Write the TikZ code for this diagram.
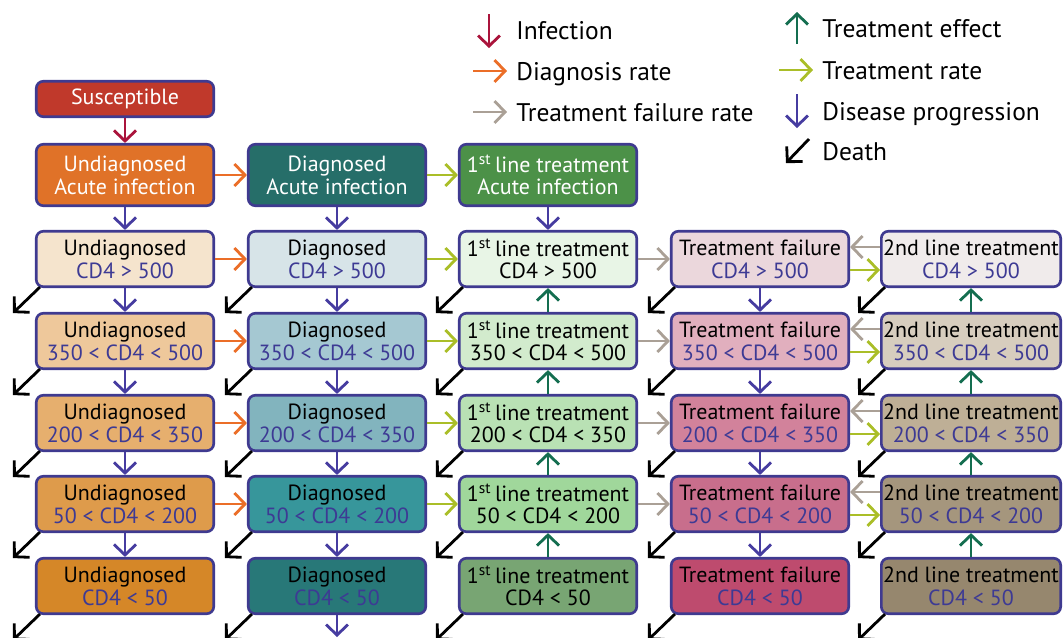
\documentclass[tikz,border=0pt]{standalone}
\usepackage{fontspec}
\setmainfont{PT Sans}
\usetikzlibrary{arrows.meta}
\definecolor{bord}{HTML}{3F3A90}
\definecolor{sub}{HTML}{3D3A94}
\definecolor{cinf}{HTML}{AA143C}
\definecolor{cdia}{HTML}{EB6E28}
\definecolor{cfail}{HTML}{AAA096}
\definecolor{ceff}{HTML}{146E50}
\definecolor{crate}{HTML}{AABE28}
\definecolor{cprog}{HTML}{463CA0}
\definecolor{fsus}{HTML}{C0392B}
\definecolor{fua}{HTML}{E07228}
\definecolor{fda}{HTML}{266E69}
\definecolor{ffa}{HTML}{4C9148}
\definecolor{fu1}{HTML}{F5E4CD}
\definecolor{fu2}{HTML}{EEC89B}
\definecolor{fu3}{HTML}{E6AF6E}
\definecolor{fu4}{HTML}{DE9B4B}
\definecolor{fu5}{HTML}{D58728}
\definecolor{fd1}{HTML}{D7E4E8}
\definecolor{fd2}{HTML}{A5C8D2}
\definecolor{fd3}{HTML}{82B4BE}
\definecolor{fd4}{HTML}{37969B}
\definecolor{fd5}{HTML}{287878}
\definecolor{ff1}{HTML}{E8F5E6}
\definecolor{ff2}{HTML}{D2EBCD}
\definecolor{ff3}{HTML}{B9E1B4}
\definecolor{ff4}{HTML}{A0D79B}
\definecolor{ff5}{HTML}{78A573}
\definecolor{ft1}{HTML}{EBD7DC}
\definecolor{ft2}{HTML}{E1AFBE}
\definecolor{ft3}{HTML}{D2829B}
\definecolor{ft4}{HTML}{C86E8C}
\definecolor{ft5}{HTML}{BE4B6E}
\definecolor{fs1}{HTML}{F0EBEB}
\definecolor{fs2}{HTML}{D7CDBE}
\definecolor{fs3}{HTML}{BEAF96}
\definecolor{fs4}{HTML}{A5967D}
\definecolor{fs5}{HTML}{96876E}
\newcommand{\sub}[1]{\textcolor{sub}{#1}}
\newcommand{\fst}{1\textsuperscript{st}\,line treatment}
\begin{document}
\begin{tikzpicture}[x=0.02cm,y=-0.02cm,
  box/.style={draw=bord, line width=1.5pt, rounded corners=4pt,
    minimum width=3.55cm, minimum height=1.11cm, align=center, inner sep=1pt,
    font=\fontsize{12.5}{13}\selectfont},
  acute/.style={box, minimum height=1.23cm, text=white},
  arr/.style={line width=1.6pt, -{Straight Barb[length=6pt,width=12.5pt,line width=1.6pt]}},
  death/.style={arr, black},
  leg/.style={anchor=base west, inner sep=0pt, font=\fontsize{14.5}{15}\selectfont}]
\useasboundingbox (0,0) rectangle (1063,637);
% legend
\coordinate (l1a) at (489,14); \coordinate (l1b) at (489,48);
\coordinate (l2a) at (473,71); \coordinate (l2b) at (507,71);
\coordinate (l3a) at (473,112); \coordinate (l3b) at (507,112);
\coordinate (l4a) at (797,44); \coordinate (l4b) at (797,12);
\coordinate (l5a) at (779,70); \coordinate (l5b) at (813,70);
\coordinate (l6a) at (797,94); \coordinate (l6b) at (797,128);
\coordinate (l7a) at (809,139); \coordinate (l7b) at (786,163);
\draw[arr,cinf] (l1a) -- (l1b);
\draw[arr,cdia] (l2a) -- (l2b);
\draw[arr,cfail] (l3a) -- (l3b);
\draw[arr,ceff] (l4a) -- (l4b);
\draw[arr,crate] (l5a) -- (l5b);
\draw[arr,cprog] (l6a) -- (l6b);
\draw[death] (l7a) -- (l7b);
\node[leg] (t1) at (516,39) {Infection};
\node[leg] (t2) at (516,80) {Diagnosis rate};
\node[leg] (t3) at (516,121) {Treatment failure rate};
\node[leg] (t4) at (822,37) {Treatment effect};
\node[leg] (t5) at (822,79) {Treatment rate};
\node[leg] (t6) at (822,120) {Disease progression};
\node[leg] (t7) at (822,160) {Death};
% boxes
\node[box, fill=fsus, text=white, minimum height=0.71cm] (sus) at (125,99) {Susceptible};
\node[acute, fill=fua] (u0) at (125,175) {Undiagnosed\\Acute infection};
\node[acute, fill=fda] (d0) at (337,175) {Diagnosed\\Acute infection};
\node[acute, fill=ffa] (f0) at (548,175) {\fst\\Acute infection};
\node[box, fill=fu1] (u1) at (125,259) {Undiagnosed\\\sub{CD4 > 500}};
\node[box, fill=fu2] (u2) at (125,341) {Undiagnosed\\\sub{350 < CD4 < 500}};
\node[box, fill=fu3] (u3) at (125,423) {Undiagnosed\\\sub{200 < CD4 < 350}};
\node[box, fill=fu4] (u4) at (125,504) {Undiagnosed\\\sub{50 < CD4 < 200}};
\node[box, fill=fu5] (u5) at (125,586) {Undiagnosed\\\sub{CD4 < 50}};
\node[box, fill=fd1] (d1) at (337,259) {Diagnosed\\\sub{CD4 > 500}};
\node[box, fill=fd2] (d2) at (337,341) {Diagnosed\\\sub{350 < CD4 < 500}};
\node[box, fill=fd3] (d3) at (337,423) {Diagnosed\\\sub{200 < CD4 < 350}};
\node[box, fill=fd4] (d4) at (337,504) {Diagnosed\\\sub{50 < CD4 < 200}};
\node[box, fill=fd5] (d5) at (337,586) {Diagnosed\\\sub{CD4 < 50}};
\node[box, fill=ff1] (f1) at (548,259) {\fst\\CD4 > 500};
\node[box, fill=ff2] (f2) at (548,341) {\fst\\350 < CD4 < 500};
\node[box, fill=ff3] (f3) at (548,423) {\fst\\200 < CD4 < 350};
\node[box, fill=ff4] (f4) at (548,504) {\fst\\50 < CD4 < 200};
\node[box, fill=ff5] (f5) at (548,586) {\fst\\CD4 < 50};
\node[box, fill=ft1] (r1) at (760,259) {Treatment failure\\\sub{CD4 > 500}};
\node[box, fill=ft2] (r2) at (760,341) {Treatment failure\\\sub{350 < CD4 < 500}};
\node[box, fill=ft3] (r3) at (760,423) {Treatment failure\\\sub{200 < CD4 < 350}};
\node[box, fill=ft4] (r4) at (760,504) {Treatment failure\\\sub{50 < CD4 < 200}};
\node[box, fill=ft5] (r5) at (760,586) {Treatment failure\\\sub{CD4 < 50}};
\node[box, fill=fs1] (s1) at (971,259) {2nd line treatment\\\sub{CD4 > 500}};
\node[box, fill=fs2] (s2) at (971,341) {2nd line treatment\\\sub{350 < CD4 < 500}};
\node[box, fill=fs3] (s3) at (971,423) {2nd line treatment\\\sub{200 < CD4 < 350}};
\node[box, fill=fs4] (s4) at (971,504) {2nd line treatment\\\sub{50 < CD4 < 200}};
\node[box, fill=fs5] (s5) at (971,586) {2nd line treatment\\\sub{CD4 < 50}};
% vertical arrows
\draw[arr,cinf] (sus) -- (u0);
\foreach \a/\b in {u0/u1,u1/u2,u2/u3,u3/u4,u4/u5,d0/d1,d1/d2,d2/d3,d3/d4,d4/d5,f0/f1,r1/r2,r2/r3,r3/r4,r4/r5}
  \draw[arr,cprog] (\a) -- (\b);
\coordinate (dout) at (337,637);
\draw[arr,cprog] (d5) -- (dout);
\foreach \a/\b in {f2/f1,f3/f2,f4/f3,f5/f4,s2/s1,s3/s2,s4/s3,s5/s4}
  \draw[arr,ceff] (\a) -- (\b);
% horizontal arrows
\foreach \a/\b in {u0/d0,u1/d1,u2/d2,u3/d3,u4/d4}
  \draw[arr,cdia] (\a) -- (\b);
\foreach \a/\b in {d0/f0,d1/f1,d2/f2,d3/f3,d4/f4}
  \draw[arr,crate] (\a) -- (\b);
\foreach \a/\b in {f1/r1,f2/r2,f3/r3,f4/r4}
  \draw[arr,cfail] (\a) -- (\b);
\foreach \i in {1,2,3,4}{
  \draw[arr,cfail] ([yshift=0.24cm]s\i.west) -- ([yshift=0.24cm]r\i.east);
  \draw[arr,crate] ([yshift=-0.22cm]r\i.east) -- ([yshift=-0.22cm]s\i.west);
}
% death arrows
\foreach \n in {u1,u2,u3,u4,u5,d1,d2,d3,d4,d5,f1,f2,f3,f4,f5,r1,r2,r3,r4,r5,s1,s2,s3,s4,s5}
  \draw[death] ([shift={(0.1cm,0.02cm)}]\n.south west) -- ([shift={(-0.44cm,-0.5cm)}]\n.south west);
\end{tikzpicture}
\end{document}
